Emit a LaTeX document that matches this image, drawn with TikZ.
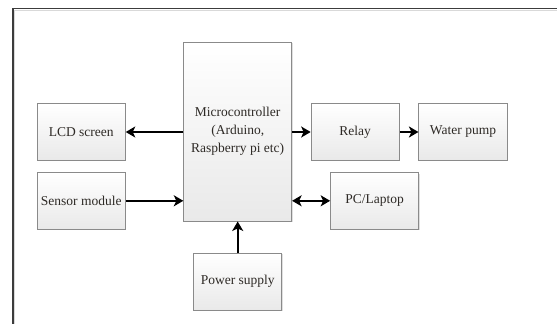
\documentclass[tikz,border=0pt]{standalone}
\usepackage{fontspec}
\setmainfont{Liberation Serif}
\usetikzlibrary{arrows.meta,shadows}
\definecolor{boxborder}{HTML}{8A8A8A}
\definecolor{boxbottom}{HTML}{E9E9E9}
\definecolor{txt}{HTML}{2E2A26}
\definecolor{frame}{HTML}{3C3C3C}
\begin{document}
\begin{tikzpicture}[x=1pt,y=-1pt,
  blockbox/.style={draw=boxborder, line width=0.8pt, top color=white, bottom color=boxbottom,
    drop shadow={shadow xshift=1pt, shadow yshift=-1pt, opacity=0.25},
    text=txt, align=center, inner sep=0pt,
    font=\fontsize{13.5}{18}\selectfont},
  smallbox/.style={blockbox, minimum width=88.3pt, minimum height=56.5pt},
  conn/.style={line width=2.3pt, -{Stealth[length=9.5pt,width=11pt,inset=2.5pt]}},
  dconn/.style={line width=2.3pt, {Stealth[length=9.5pt,width=11pt,inset=2.5pt]}-{Stealth[length=9.5pt,width=11pt,inset=2.5pt]}}
]
\useasboundingbox (0,0) rectangle (557,324);
\fill[white] (0,0) rectangle (557,324);
% frame
\draw[frame, line width=1.5pt] (13,330) -- (13,8.5) -- (565,8.5);
\draw[black!15, line width=0.8pt] (14.5,330) -- (14.5,10.2) -- (565,10.2);

\node[blockbox, minimum width=108pt, minimum height=178.7pt] (mcu) at (237.7,131.7)
  {Microcontroller\\(Arduino,\\Raspberry pi etc)};
\node[smallbox] (lcd) at (81.2,132) {LCD screen};
\node[smallbox] (sensor) at (81.2,200.8) {Sensor module};
\node[smallbox] (relay) at (355.2,132) {Relay};
\node[smallbox] (pump) at (463,132) {Water pump};
\node[smallbox] (pc) at (374.7,200.8) {PC/Laptop};
\node[smallbox] (power) at (237.7,281.7) {Power supply};

\draw[conn] (mcu.west |- lcd.east) -- (lcd.east);
\draw[conn] (sensor.east) -- (sensor.east -| mcu.west);
\draw[conn] (mcu.east |- relay.west) -- (relay.west);
\draw[conn] (relay.east) -- (pump.west);
\draw[dconn] (mcu.east |- pc.west) -- (pc.west);
\draw[conn] (power.north) -- (power.north |- mcu.south);
\end{tikzpicture}
\end{document}
